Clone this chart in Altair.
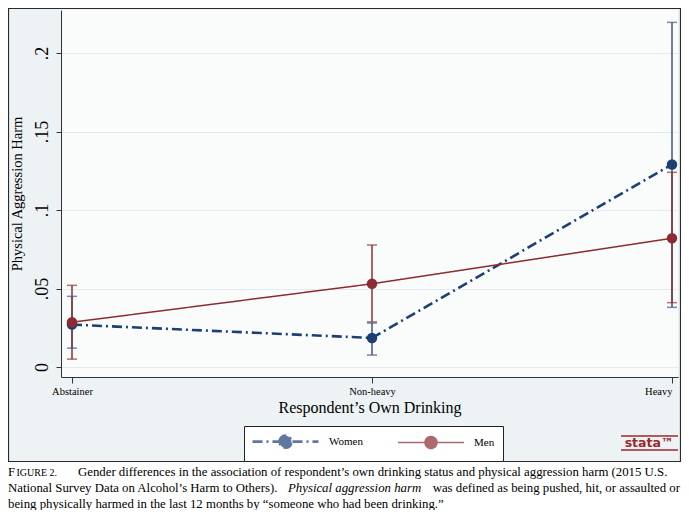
import altair as alt
import pandas as pd

# ---------------- data ----------------
categories = ["Abstainer", "Non-heavy", "Heavy"]
groups = ["Women", "Men"]
women_est = [0.027, 0.0185, 0.129]
women_lo = [0.012, 0.0076, 0.038]
women_hi = [0.045, 0.028, 0.2195]
men_est = [0.0285, 0.053, 0.082]
men_lo = [0.005, 0.0287, 0.041]
men_hi = [0.052, 0.0777, 0.124]
y_ticks = [0, 0.05, 0.1, 0.15, 0.2]
line_colors = ["#1c3f74", "#8c2b32"]
ci_colors = ["#3f5683", "#8e3339"]
dashes = [[10, 4, 2, 4], [1, 0]]

caption = [
    "Gender differences in the association of respondent\u2019s own drinking status and physical aggression harm (2015 U.S.",
    "National Survey Data on Alcohol\u2019s Harm to Others).",
    "Physical aggression harm",
    "was defined as being pushed, hit, or assaulted or",
    "being physically harmed in the last 12 months by \u201csomeone who had been drinking.\u201d",
]

rows = []
for g, est, lo, hi, cc in [("Women", women_est, women_lo, women_hi, ci_colors[0]),
                           ("Men", men_est, men_lo, men_hi, ci_colors[1])]:
    for i, c in enumerate(categories):
        rows.append({"group": g, "cat": c, "pos": i + 1, "est": est[i],
                     "lo": lo[i], "hi": hi[i], "cicol": cc,
                     "order": groups.index(g)})
df = pd.DataFrame(rows)

W, H = 617, 367
FONT = "Liberation Serif"
x_scale = alt.Scale(domain=[1 - 11 / 300, 3 + 6 / 300], nice=False, zero=False)
y_scale = alt.Scale(domain=[-10 / 1570, 0.2 + 43 / 1570], nice=False, zero=False)

cat_js = "[" + ",".join("'" + c + "'" for c in categories) + "]"
x_axis = alt.Axis(values=[1, 2, 3], labelExpr=cat_js + "[datum.value - 1]",
                  grid=False, title="Respondent\u2019s Own Drinking",
                  labelFont=FONT, labelFontSize=10.5, labelColor="black",
                  labelFlush=8,
                  titleFont=FONT, titleFontSize=16, titleFontWeight="normal",
                  titleColor="black", titlePadding=3, labelPadding=3,
                  tickSize=6, tickColor="#333", domainColor="#333")
y_axis = alt.Axis(values=y_ticks,
                  labelExpr="replace(format(datum.value, '.2~f'), '0.', '.')",
                  labelAngle=270, labelAlign="center", labelBaseline="bottom",
                  labelFont=FONT, labelFontSize=18, labelColor="black",
                  labelPadding=5, title="Physical Aggression Harm",
                  titleFont=FONT, titleFontSize=14.5, titleFontWeight="normal",
                  titleColor="black", titlePadding=9, tickSize=5,
                  tickColor="#333", domainColor="#333", grid=True,
                  gridColor="#e3ebee", gridWidth=1)

# legend symbol: a 66px line with a dot in the middle (unit = 6px)
PATH = "M-5.5,0H5.5M-1,0A1,1 0 1,1 1,0A1,1 0 1,1 -1,0Z"
col_expr = ("datum.value == '" + groups[0] + "' ? '" + line_colors[0]
            + "' : '" + line_colors[1] + "'")
dash_expr = ("datum.value == '" + groups[0] + "' ? " + str(dashes[0])
             + " : " + str(dashes[1]))
legend = alt.Legend(title=None, orient="none", legendX=183, legendY=416,
                    direction="horizontal", symbolType=PATH, symbolSize=144,
                    symbolStrokeWidth=2, symbolOffset=26, symbolOpacity=1,
                    symbolFillColor={"expr": col_expr},
                    symbolStrokeColor={"expr": col_expr},
                    symbolDash={"expr": dash_expr},
                    labelFont=FONT, labelFontSize=11,
                    labelColor="black", strokeColor="#222", fillColor="white",
                    padding=8, columnPadding=32, labelOffset=36)

color = alt.Color("group:N", scale=alt.Scale(domain=groups, range=line_colors),
                  legend=legend)
dash = alt.StrokeDash("group:N", scale=alt.Scale(domain=groups, range=dashes),
                      legend=None)

base = alt.Chart(df)
X = alt.X("pos:Q", scale=x_scale, axis=x_axis)

ci = base.mark_rule(strokeWidth=1.5).encode(
    x=alt.X("pos:Q", scale=x_scale), y=alt.Y("lo:Q", scale=y_scale),
    y2="hi:Q", color=alt.Color("cicol:N", scale=None), order="order:Q")
cap_lo = base.mark_tick(orient="horizontal", size=10, thickness=1.5).encode(
    x=alt.X("pos:Q", scale=x_scale), y=alt.Y("lo:Q", scale=y_scale),
    color=alt.Color("cicol:N", scale=None))
cap_hi = base.mark_tick(orient="horizontal", size=10, thickness=1.5).encode(
    x=alt.X("pos:Q", scale=x_scale), y=alt.Y("hi:Q", scale=y_scale),
    color=alt.Color("cicol:N", scale=None))

lines = base.mark_line().encode(
    x=X, y=alt.Y("est:Q", scale=y_scale, axis=y_axis),
    color=color, strokeDash=dash,
    strokeWidth=alt.StrokeWidth("group:N", scale=alt.Scale(domain=groups, range=[2.6, 1.5]), legend=None),
    detail="group:N")
points = base.mark_point(filled=True, size=110, opacity=1, strokeWidth=0).encode(
    x=alt.X("pos:Q", scale=x_scale), y=alt.Y("est:Q", scale=y_scale),
    color=color, order="order:Q")

# decorations (frame, caption area, logo, caption text)
frame = alt.Chart(pd.DataFrame({"a": [0]})).mark_rect(
    fill=None, stroke="#2a2a2a", strokeWidth=1.2).encode(
    x=alt.value(-52.5), x2=alt.value(619.5), y=alt.value(-1.5), y2=alt.value(451.5))
white = alt.Chart(pd.DataFrame({"a": [0]})).mark_rect(fill="white").encode(
    x=alt.value(-60), x2=alt.value(640), y=alt.value(452.2), y2=alt.value(520))
logo = alt.Chart(pd.DataFrame({"t": ["stata\u2122"]})).mark_text(
    font="DejaVu Sans", fontSize=12.5, fontWeight="bold", color="#9a2a30",
    align="center", baseline="middle").encode(
    text="t:N", x=alt.value(588), y=alt.value(433))
logo_r1 = alt.Chart(pd.DataFrame({"a": [0]})).mark_rule(color="#9a2a30", strokeWidth=1.5).encode(
    x=alt.value(560), x2=alt.value(617), y=alt.value(426))
logo_r2 = alt.Chart(pd.DataFrame({"a": [0]})).mark_rule(color="#9a2a30", strokeWidth=1.5).encode(
    x=alt.value(560), x2=alt.value(617), y=alt.value(440))

CS = 12.8


def txt(s, x, y, size=CS, style="normal", align="left"):
    return alt.Chart(pd.DataFrame({"t": [s]})).mark_text(
        font=FONT, fontSize=size, fontStyle=style, color="black",
        align=align, baseline="alphabetic").encode(
        text="t:N", x=alt.value(x), y=alt.value(y))


cap_layers = [
    txt("F", -53, 466),
    txt("IGURE 2.", -44.5, 466, size=10),
    txt(caption[0], 17, 466),
    txt(caption[1], -53, 482),
    txt(caption[2], 227, 482, style="italic"),
    txt(caption[3], 619, 482, align="right"),
    txt(caption[4], -53, 498),
]

chart = alt.layer(
    frame, white, ci, cap_lo, cap_hi, lines, points,
    logo, logo_r1, logo_r2, *cap_layers
).properties(
    width=W, height=H,
    autosize=alt.AutoSizeParams(type="none"),
    padding={"left": 53, "top": 2, "right": 3, "bottom": 133},
).configure(background="#edf2f4").configure_view(stroke=None, fill="#fafcfc")

chart.save("out.html", embed_options={"renderer": "svg", "actions": False})
